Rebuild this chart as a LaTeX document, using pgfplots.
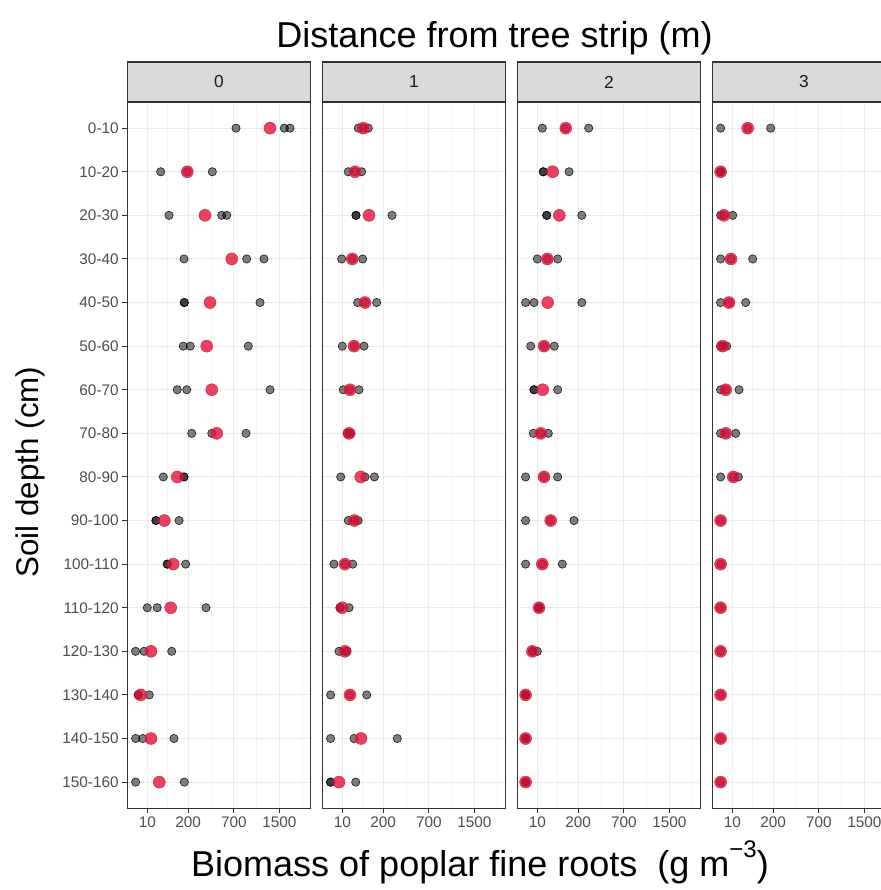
\documentclass[border=0pt]{standalone}
\usepackage{pgfplots}
\pgfplotsset{compat=1.18}
\usepackage{fontspec}
\setmainfont{Liberation Sans}

\definecolor{stripfill}{HTML}{D9D9D9}
\definecolor{frame}{HTML}{333333}
\definecolor{ticktext}{HTML}{4D4D4D}
\definecolor{striptext}{HTML}{1A1A1A}
\definecolor{gridmaj}{HTML}{EBEBEB}
\definecolor{gridmin}{HTML}{F4F4F4}
\definecolor{meanred}{HTML}{E0143C}

% one facet: square-root x scale, depth classes 1..16 from the top
\pgfplotsset{
  facet/.style={
    scale only axis, width=137.55pt, height=529.7pt, anchor=south west,
    xmin=-2.23, xmax=47.19, ymin=0.4, ymax=16.6, y dir=reverse,
    x filter/.expression={sqrt(x)},
    xtick={3.16228,14.14214,26.45751,38.72983},
    xticklabels={10,200,700,1500},
    minor xtick={8.6522,20.3,32.5937,44.866},
    ytick={1,...,16},
    xmajorgrids, xminorgrids, ymajorgrids,
    major grid style={gridmaj, line width=0.8pt},
    minor grid style={gridmin, line width=0.5pt},
    tick align=outside, major tick length=3.8pt, minor tick length=0pt,
    xtick pos=bottom, ytick pos=left,
    tick style={frame, line width=0.7pt},
    axis line style={frame, line width=0.9pt},
    xticklabel style={font=\fontsize{11.5}{13}\selectfont, text=ticktext, inner sep=2.5pt},
    yticklabel style={font=\fontsize{11.5}{13}\selectfont, text=ticktext, inner sep=2.5pt},
  },
  noylabels/.style={yticklabels={}, ytick style={draw=none}},
  reps/.style={only marks, mark=*, mark size=3.1pt,
    mark options={fill=black, fill opacity=0.5, draw=black, draw opacity=0.8, line width=0.5pt}},
  means/.style={only marks, mark=*, mark size=4.5pt,
    mark options={fill=meanred, fill opacity=0.8, draw=meanred, draw opacity=0.8, line width=0.4pt}},
}

\begin{document}
\begin{tikzpicture}
\useasboundingbox (0,0) rectangle (660.75pt,667.5pt);
\clip (0,0) rectangle (660.75pt,667.5pt);

% ---- distance 0 m ----
\begin{axis}[facet, at={(95.5pt,61.3pt)},
  yticklabels={0-10,10-20,20-30,30-40,40-50,50-60,60-70,70-80,80-90,90-100,100-110,110-120,120-130,130-140,140-150,150-160}]
\addplot[reps] table {
x y
732 1
1606 1
1731 1
45.7 2
194 2
427 2
81 3
538 3
603 3
170 4
896 4
1197 4
172 5
172 5
1124 5
165 6
217 6
922 6
126 7
190 7
1312 7
229 8
421 8
885 8
55.7 9
170 9
170 9
30 10
30 10
137 10
73 11
73 11
182 11
9.9 12
34 12
360 12
0 13
5.1 13
94.7 13
0.5 14
0.5 14
13.6 14
0 15
3.7 15
107 15
0 16
172 16
};
\addplot[means] table {
x y
1311 1
194 2
350 3
671 4
402 5
367 6
421 7
478 8
126 9
60 10
103 11
89.5 12
17.2 13
1.9 14
17.2 15
40.8 16
};
\end{axis}

% ---- distance 1 m ----
\begin{axis}[facet, noylabels, at={(241.75pt,61.3pt)}]
\addplot[reps] table {
x y
55.7 1
77.6 1
103 1
22.7 2
43 2
70 2
46.8 3
46.8 3
274 3
8.9 4
34 4
74.8 4
53.3 5
86 5
154 5
9.9 6
40 6
81 6
11.7 7
27 7
58.6 7
20 8
25 8
30 8
7.4 9
86 9
139 9
22.7 10
40.8 10
55 10
0.8 11
15 11
35.5 11
6.4 12
6.4 12
24.6 12
5.1 13
15 13
19.6 13
0 14
27 14
94.7 14
0 15
39.8 15
323 15
0 16
0 16
45.7 16
};
\addplot[means] table {
x y
77.6 1
43.2 2
107 3
34.2 4
86 5
39.8 6
27.3 7
24.6 8
65.8 9
40.8 10
15 11
9.9 12
15 13
27.3 14
67 15
5.1 16
};
\end{axis}

% ---- distance 2 m ----
\begin{axis}[facet, noylabels, at={(388pt,61.3pt)}]
\addplot[reps] table {
x y
20.3 1
117 1
289 1
22.7 2
22.7 2
137 2
32.3 3
32.3 3
229 3
9.9 4
34.2 4
74.8 4
0 5
5.1 5
229 5
1.9 6
24.6 6
59.8 6
5.1 7
5.1 7
74.8 7
4.3 8
16.6 8
37.4 8
0 9
24.6 9
74.8 9
0 10
45.7 10
170 10
0 11
20.3 11
97.8 11
13 12
13 12
13 12
3.3 13
3.3 13
9.9 13
0 14
0 14
0 14
0 15
0 15
0 15
0 16
0 16
0 16
};
\addplot[means] table {
x y
117 1
53.3 2
82.5 3
34.2 4
35.5 5
24.6 6
21.2 7
16.6 8
24.6 9
45.7 10
20.3 11
13 12
3.3 13
0 14
0 15
0 16
};
\end{axis}

% ---- distance 3 m ----
\begin{axis}[facet, noylabels, at={(534.25pt,61.3pt)}]
\addplot[reps] table {
x y
0 1
53.3 1
182 1
0 2
0 2
0 2
0 3
0.8 3
10.6 3
0 4
7.9 4
74.8 4
0 5
5.1 5
45.7 5
0 6
0.3 6
2.7 6
0 7
1.9 7
24.6 7
0 8
1.9 8
16.6 8
0 9
11.7 9
22.7 9
0 10
0 11
0 12
0 13
0 14
0 15
0 16
};
\addplot[means] table {
x y
53.3 1
0 2
0.8 3
7.9 4
5.1 5
0.3 6
1.9 7
1.9 8
11.7 9
0 10
0 11
0 12
0 13
0 14
0 15
0 16
};
\end{axis}

% facet strips
\foreach \lab [count=\k from 0] in {0,1,2,3} {
  \pgfmathsetmacro{\xl}{95.5+146.25*\k}
  \pgfmathsetmacro{\xr}{\xl+137.55}
  \pgfmathsetmacro{\xc}{\xl+68.775}
  \draw[fill=stripfill, draw=frame, line width=0.8pt]
    (\xl pt,591pt) rectangle (\xr pt,621pt);
  \node[text=striptext, font=\fontsize{13}{15}\selectfont]
    at (\xc pt,606pt) {\lab};
}

% titles
\node[font=\fontsize{27}{32}\selectfont] at (370.9pt,639pt) {Distance from tree strip (m)};
\node[font=\fontsize{27}{32}\selectfont] at (360pt,21pt)
  {Biomass of poplar fine roots\ \ (g m\raisebox{1.0ex}{\fontsize{18}{18}\selectfont −3})};
\node[font=\fontsize{23.5}{28}\selectfont, rotate=90] at (22.5pt,313.5pt) {Soil depth (cm)};
\end{tikzpicture}
\end{document}
